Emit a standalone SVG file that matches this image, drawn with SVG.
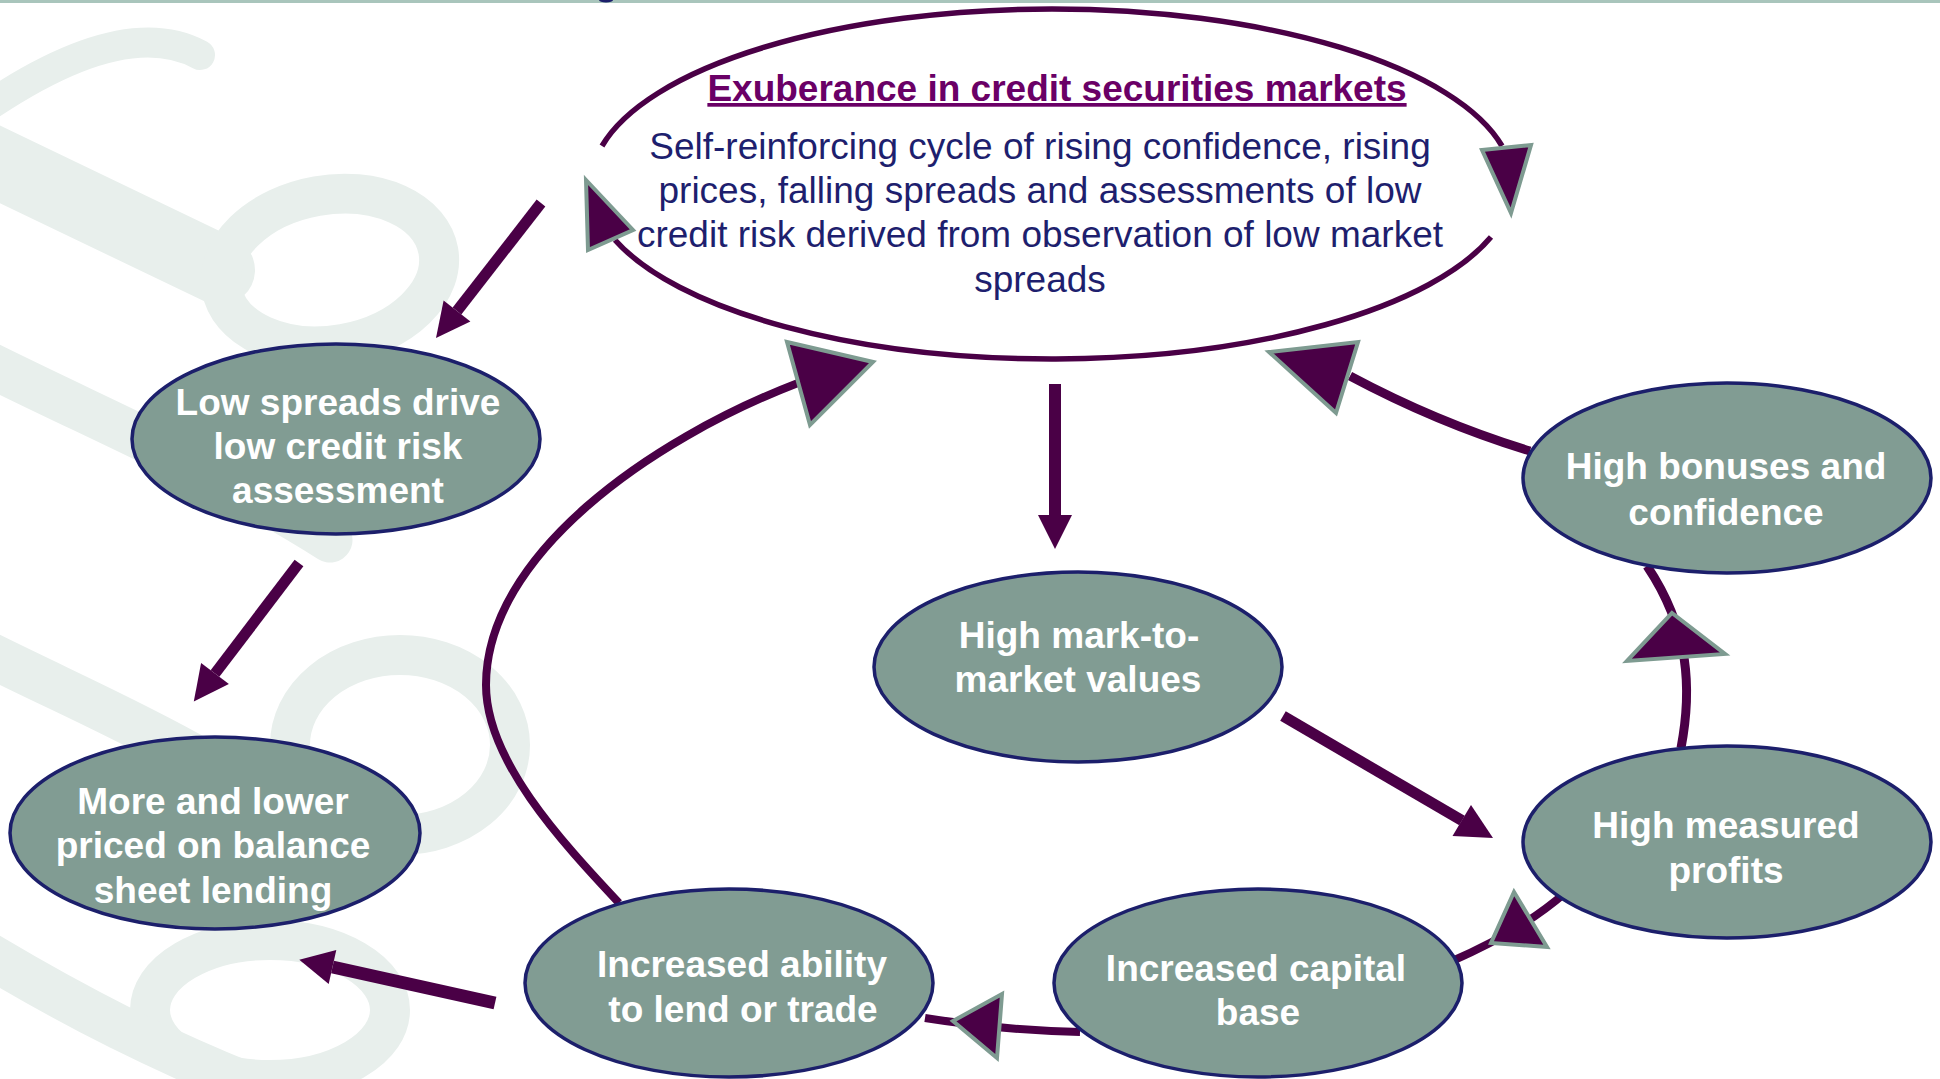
<svg xmlns="http://www.w3.org/2000/svg" width="1940" height="1079" viewBox="0 0 1940 1079">
<style>
.w{fill:none;stroke:#e8efec;stroke-linecap:round}
.c{fill:none;stroke:#4a0046}
.ah{fill:#4a0046;stroke:#7e9b91;stroke-width:4;stroke-linejoin:miter}
.h{fill:#4a0046}
.n{fill:#819c93;stroke:#1c1f6b;stroke-width:3.5}
.t{font-family:"Liberation Sans",Arial,sans-serif;font-size:37px;font-weight:bold;fill:#ffffff;text-anchor:middle}
.b{font-family:"Liberation Sans",Arial,sans-serif;font-size:37px;fill:#1e1f6e;text-anchor:middle}
.ttl{font-family:"Liberation Sans",Arial,sans-serif;font-size:37px;font-weight:bold;fill:#6a0066;text-anchor:middle;text-decoration:underline}
</style>
<rect x="0" y="0" width="1940" height="1079" fill="#ffffff"/>
<g id="watermark">
<path class="w" stroke-width="30" d="M200 55 C150 28 80 45 -10 105"/>
<path class="w" stroke-width="70" d="M-30 150 L220 270"/>
<ellipse class="w" stroke-width="40" cx="330" cy="270" rx="110" ry="75" transform="rotate(-10 330 270)"/>
<path class="w" stroke-width="45" d="M-20 360 C100 420 220 470 330 540"/>
<ellipse class="w" stroke-width="40" cx="400" cy="745" rx="110" ry="90"/>
<path class="w" stroke-width="45" d="M-20 650 C60 690 130 720 200 760"/>
<ellipse class="w" stroke-width="40" cx="270" cy="1010" rx="120" ry="70"/>
<path class="w" stroke-width="45" d="M-20 950 C80 1010 160 1050 260 1090"/>
</g>
<rect x="0" y="0" width="1940" height="3" fill="#a9c5bc"/>
<ellipse cx="606" cy="0" rx="7" ry="2.5" fill="#1c1f6b"/>
<g id="connectors">
<path class="c" stroke-width="8" d="M619 903 C560 840 486 760 486 685 C486 555 650 440 798 383"/>
<path class="c" stroke-width="9" d="M1530 451 Q1438 423 1350 376"/>
<path class="c" stroke-width="9" d="M1681 748 C1692 690 1690 630 1647 566"/>
<path class="c" stroke-width="8" d="M1450 962 Q1520 932 1565 893"/>
<path class="c" stroke-width="8" d="M1080 1032 Q1000 1030 925 1018"/>
<line class="c" stroke-width="11" x1="541" y1="203" x2="457" y2="311"/>
<polygon class="h" points="443.6,300.6 470.4,321.4 436,338"/>
<line class="c" stroke-width="11" x1="299" y1="563" x2="215" y2="673.5"/>
<polygon class="h" points="201.1,662.9 228.9,684.1 193.8,701.4"/>
<line class="c" stroke-width="12" x1="1055" y1="384" x2="1055" y2="516"/>
<polygon class="h" points="1038,515 1072,515 1055,549"/>
<line class="c" stroke-width="11" x1="1283" y1="716" x2="1462" y2="820.6"/>
<polygon class="h" points="1452.5,836 1471,805 1493,838"/>
<line class="c" stroke-width="13" x1="495" y1="1003" x2="332.5" y2="967"/>
<polygon class="h" points="336.3,949.9 328.7,984.1 299.3,959.7"/>
</g>
<g id="exuberance">
<path class="c" stroke-width="5.5" d="M602 146 A461 175 0 0 1 1502 146"/>
<path class="c" stroke-width="5.5" d="M1491 237 A461 175 0 0 1 615 240"/>
<text class="ttl" x="1057" y="101">Exuberance in credit securities markets</text>
<text class="b" x="1040" y="159">Self-reinforcing cycle of rising confidence, rising</text>
<text class="b" x="1040" y="203">prices, falling spreads and assessments of low</text>
<text class="b" x="1040" y="247">credit risk derived from observation of low market</text>
<text class="b" x="1040" y="292">spreads</text>
</g>
<g id="low-spreads">
<ellipse class="n" cx="336" cy="439" rx="204" ry="95"/>
<text class="t" x="338" y="415">Low spreads drive</text>
<text class="t" x="338" y="459">low credit risk</text>
<text class="t" x="338" y="503">assessment</text>
</g>
<g id="more-lending">
<ellipse class="n" cx="215" cy="833" rx="205" ry="96"/>
<text class="t" x="213" y="814">More and lower</text>
<text class="t" x="213" y="858">priced on balance</text>
<text class="t" x="213" y="903">sheet lending</text>
</g>
<g id="mark-to-market">
<ellipse class="n" cx="1078" cy="667" rx="204" ry="95"/>
<text class="t" x="1079" y="648">High mark-to-</text>
<text class="t" x="1078" y="692">market values</text>
</g>
<g id="bonuses">
<ellipse class="n" cx="1727" cy="478" rx="204" ry="95"/>
<text class="t" x="1726" y="479">High bonuses and</text>
<text class="t" x="1726" y="525">confidence</text>
</g>
<g id="profits">
<ellipse class="n" cx="1727" cy="842" rx="204" ry="96"/>
<text class="t" x="1726" y="838">High measured</text>
<text class="t" x="1726" y="883">profits</text>
</g>
<g id="capital">
<ellipse class="n" cx="1258" cy="983" rx="204" ry="94"/>
<text class="t" x="1256" y="981">Increased capital</text>
<text class="t" x="1258" y="1025">base</text>
</g>
<g id="ability">
<ellipse class="n" cx="729" cy="983" rx="204" ry="94"/>
<text class="t" x="742" y="977">Increased ability</text>
<text class="t" x="743" y="1022">to lend or trade</text>
</g>
<g id="arrowheads">
<polygon class="ah" points="586,180 633,230 588,250"/>
<polygon class="ah" points="1482,150 1531,145 1511,213"/>
<polygon class="ah" points="787,342 873,362 810,425"/>
<polygon class="ah" points="1269,352 1358,342 1336,413"/>
<polygon class="ah" points="1672,613 1725,654 1627,661"/>
<polygon class="ah" points="1514,892 1547,947 1491,943"/>
<polygon class="ah" points="953,1021 1002,994 997,1058"/>
</g>
</svg>
